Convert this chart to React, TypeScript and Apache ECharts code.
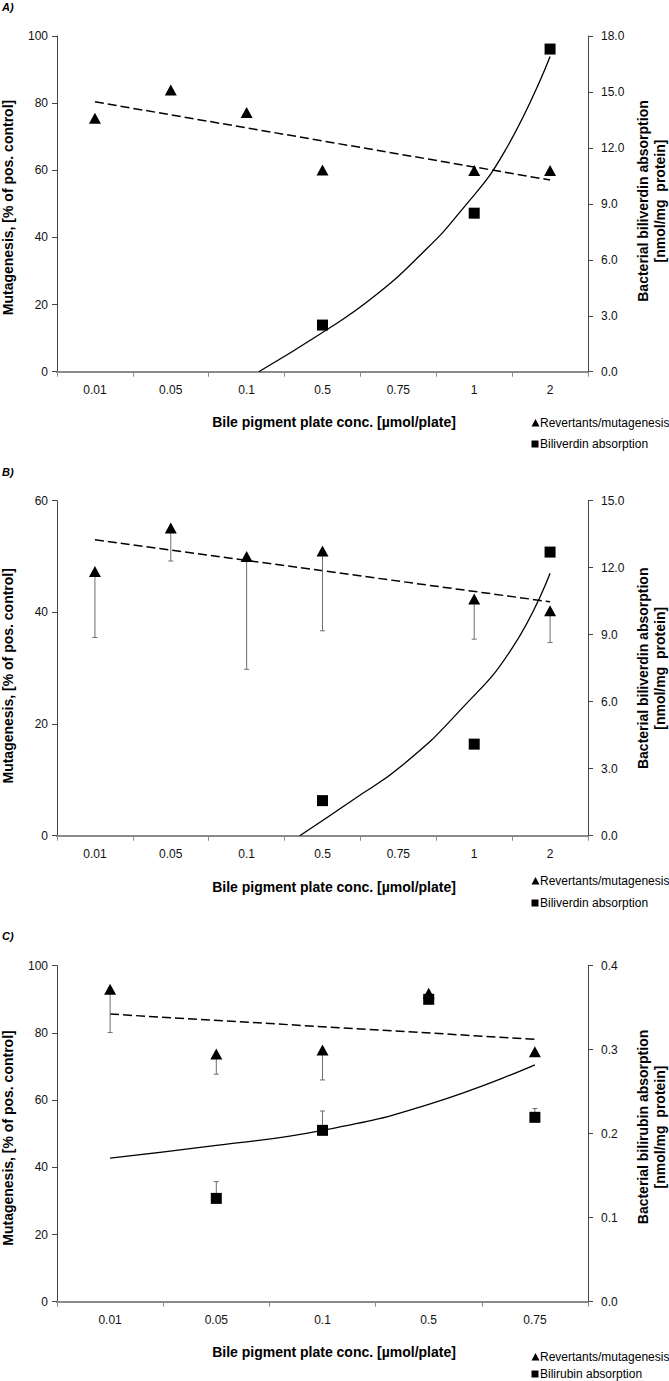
import React, { useEffect, useRef } from "react";
import * as echarts from "echarts";

// ---------- data ----------
const catsAB = ["0.01", "0.05", "0.1", "0.5", "0.75", "1", "2"];
const catsC = ["0.01", "0.05", "0.1", "0.5", "0.75"];

// Panel A
const mutA = [75.5, 83.9, 77.2, 60.1, null, 59.9, 59.9];
const absA = [null, null, null, 2.5, null, 8.5, 17.3];
const trendMutA = [[0.5, 80.4], [6.5, 57.1]];
const fitAbsA = [[2.66, 0], [3.5, 2.1], [4.17, 4.0], [4.8, 6.3], [5.3, 8.5], [5.9, 11.8], [6.5, 16.9]];

// Panel B
const mutB = [47.3, 55.1, 50.0, 51.0, null, 42.4, 40.3];
const mutBLow = [35.5, 49.2, 29.8, 36.7, null, 35.2, 34.6];
const absB = [null, null, null, 1.57, null, 4.1, 12.7];
const trendMutB = [[0.5, 53.0], [6.5, 41.9]];
const fitAbsB = [[3.2, 0], [3.9, 1.6], [4.57, 3.2], [5.31, 5.6], [6.0, 8.4], [6.5, 11.75]];

// Panel C
const mutC = [93.0, 73.7, 74.9, 91.8, 74.4];
const mutCLow = [80.1, 67.7, 66.0, null, null];
const absC = [null, 0.123, 0.204, 0.36, 0.2195];
const absCHigh = [null, 0.143, 0.227, null, 0.23];
const trendMutC = [[0.5, 85.6], [4.5, 78.1]];
const fitAbsC = [[0.5, 0.171], [1.5, 0.186], [2.5, 0.204], [3.5, 0.235], [4.5, 0.282]];

const FONT = "'Liberation Sans', Arial, sans-serif";

function errRender(params: any, api: any) {
  const x = api.value(0);
  const p0 = api.coord([x, api.value(1)]);
  const p1 = api.coord([x, api.value(2)]);
  const st = { stroke: "#6e6e6e", lineWidth: 1 };
  return {
    type: "group",
    children: [
      { type: "line", shape: { x1: p0[0], y1: p0[1], x2: p1[0], y2: p1[1] }, style: st },
      { type: "line", shape: { x1: p1[0] - 2.5, y1: p1[1], x2: p1[0] + 2.5, y2: p1[1] }, style: st },
    ],
  };
}

function errData(center: (number | null)[], end: (number | null)[]) {
  const out: number[][] = [];
  center.forEach((c, i) => {
    const e = end[i];
    if (c != null && e != null) out.push([i, c, e]);
  });
  return out;
}

function App() {
  const ref = useRef<HTMLDivElement>(null);
  useEffect(() => {
    if (!ref.current) return;
    const chart = echarts.init(ref.current, undefined, { renderer: "svg" });

    const grids = [
      { left: 57, width: 531, top: 36, height: 335.7 },
      { left: 57, width: 531, top: 500.7, height: 335 },
      { left: 57, width: 531, top: 965.7, height: 336 },
    ];

    const xAxes: any[] = [];
    const yAxes: any[] = [];
    const series: any[] = [];

    const panels = [
      { cats: catsAB, lmax: 100, lint: 20, rmax: 18, rint: 3, rdec: 1, mut: mutA, mutErr: null as any, abs: absA, absErr: null as any, trend: trendMutA, fit: fitAbsA },
      { cats: catsAB, lmax: 60, lint: 20, rmax: 15, rint: 3, rdec: 1, mut: mutB, mutErr: mutBLow, abs: absB, absErr: null, trend: trendMutB, fit: fitAbsB },
      { cats: catsC, lmax: 100, lint: 20, rmax: 0.4, rint: 0.1, rdec: 1, mut: mutC, mutErr: mutCLow, abs: absC, absErr: absCHigh, trend: trendMutC, fit: fitAbsC },
    ];

    panels.forEach((p, g) => {
      const xc = xAxes.length;
      xAxes.push({
        type: "category",
        gridIndex: g,
        data: p.cats,
        boundaryGap: true,
        axisLine: { lineStyle: { color: "#8a8a8a", width: 2 } },
        axisTick: { show: true, length: 5, lineStyle: { color: "#8a8a8a", width: 1 } },
        axisLabel: { color: "#111", fontSize: 12, fontFamily: FONT, margin: 12, interval: 0 },
        splitLine: { show: false },
      });
      const xv = xAxes.length;
      xAxes.push({ type: "value", gridIndex: g, min: 0, max: p.cats.length, show: false });
      const yl = yAxes.length;
      yAxes.push({
        type: "value",
        gridIndex: g,
        position: "left",
        min: 0,
        max: p.lmax,
        interval: p.lint,
        axisLine: { show: true, lineStyle: { color: "#444", width: 1 } },
        axisTick: { show: true, length: 5, lineStyle: { color: "#444" } },
        axisLabel: { color: "#111", fontSize: 12, fontFamily: FONT, margin: 9 },
        splitLine: { show: false },
      });
      const yr = yAxes.length;
      yAxes.push({
        type: "value",
        gridIndex: g,
        position: "right",
        min: 0,
        max: p.rmax,
        interval: p.rint,
        axisLine: { show: true, lineStyle: { color: "#444", width: 1 } },
        axisTick: { show: true, length: 5, lineStyle: { color: "#444" } },
        axisLabel: {
          color: "#111",
          fontSize: 12,
          fontFamily: FONT,
          margin: 13,
          formatter: (v: number) => v.toFixed(p.rdec),
        },
        splitLine: { show: false },
      });

      // trend lines
      series.push({
        type: "line",
        xAxisIndex: xv,
        yAxisIndex: yl,
        data: p.trend,
        showSymbol: false,
        lineStyle: { color: "#000", width: 1.5, type: [9, 4] },
        z: 2,
      });
      series.push({
        type: "line",
        xAxisIndex: xv,
        yAxisIndex: yr,
        data: p.fit,
        showSymbol: false,
        smooth: 0.5,
        lineStyle: { color: "#000", width: 1.3 },
        z: 2,
      });
      // error bars
      if (p.mutErr) {
        series.push({
          type: "custom",
          xAxisIndex: xc,
          yAxisIndex: yl,
          renderItem: errRender,
          data: errData(p.mut, p.mutErr),
          encode: { x: 0, y: [1, 2] },
          z: 3,
        });
      }
      if (p.absErr) {
        series.push({
          type: "custom",
          xAxisIndex: xc,
          yAxisIndex: yr,
          renderItem: errRender,
          data: errData(p.abs, p.absErr),
          encode: { x: 0, y: [1, 2] },
          z: 3,
        });
      }
      // markers
      series.push({
        type: "scatter",
        xAxisIndex: xc,
        yAxisIndex: yl,
        data: p.mut,
        symbol: "triangle",
        symbolSize: [12, 11],
        itemStyle: { color: "#000", opacity: 1 },
        z: 4,
      });
      series.push({
        type: "scatter",
        xAxisIndex: xc,
        yAxisIndex: yr,
        data: p.abs,
        symbol: "rect",
        symbolSize: 11,
        itemStyle: { color: "#000", opacity: 1 },
        z: 5,
      });
    });

    const boldT = (text: string, x: number, y: number, rot = 0, extra: any = {}) => ({
      type: "text",
      x,
      y,
      rotation: rot,
      style: {
        text,
        fill: "#000",
        font: `bold 14px ${FONT}`,
        textAlign: "center",
        textVerticalAlign: "middle",
        ...extra,
      },
    });
    const plainT = (text: string, x: number, y: number) => ({
      type: "text",
      x,
      y,
      style: { text, fill: "#000", font: `12px ${FONT}`, textAlign: "left", textVerticalAlign: "middle" },
    });
    const labelT = (text: string, x: number, y: number) => ({
      type: "text",
      x,
      y,
      style: { text, fill: "#000", font: `italic bold 11px ${FONT}`, textAlign: "left", textVerticalAlign: "middle" },
    });
    const tri = (x: number, y: number) => ({
      type: "polygon",
      shape: { points: [[x - 4, y + 3.5], [x + 4, y + 3.5], [x, y - 4]] },
      style: { fill: "#000" },
    });
    const sq = (x: number, y: number) => ({
      type: "rect",
      shape: { x: x - 3.5, y: y - 3.5, width: 7, height: 7 },
      style: { fill: "#000" },
    });

    const legend = (y1: number, y2: number, second: string) => [
      tri(535.5, y1),
      plainT("Revertants/mutagenesis", 540, y1),
      sq(535, y2),
      plainT(second, 540, y2),
    ];

    const graphic: any[] = [
      labelT("A)", 2, 7),
      labelT("B)", 2, 472),
      labelT("C)", 2, 936),
      boldT("Bile pigment plate conc. [µmol/plate]", 334, 422),
      boldT("Bile pigment plate conc. [µmol/plate]", 334, 887),
      boldT("Bile pigment plate conc. [µmol/plate]", 334, 1352),
      boldT("Mutagenesis, [% of pos. control]", 8, 207.5, Math.PI / 2),
      boldT("Mutagenesis, [% of pos. control]", 8, 675.8, Math.PI / 2),
      boldT("Mutagenesis, [% of pos. control]", 8, 1138, Math.PI / 2),
      boldT("Bacterial biliverdin absorption\n[nmol/mg  protein]", 651.5, 201, Math.PI / 2, { lineHeight: 17 }),
      boldT("Bacterial biliverdin absorption\n[nmol/mg  protein]", 651.5, 668.3, Math.PI / 2, { lineHeight: 17 }),
      boldT("Bacterial bilirubin absorption\n[nmol/mg  protein]", 651.5, 1127, Math.PI / 2, { lineHeight: 17 }),
      ...legend(423, 444, "Biliverdin absorption"),
      ...legend(881, 903, "Biliverdin absorption"),
      ...legend(1357, 1374, "Bilirubin absorption"),
    ];

    chart.setOption({
      animation: false,
      backgroundColor: "#fff",
      grid: grids,
      xAxis: xAxes,
      yAxis: yAxes,
      series,
      graphic,
    });
    return () => chart.dispose();
  }, []);
  return (
    <div
      ref={ref}
      style={{ position: "absolute", left: 0, top: 0, width: 669, height: 1381, background: "#fff" }}
    />
  );
}

export default App;
